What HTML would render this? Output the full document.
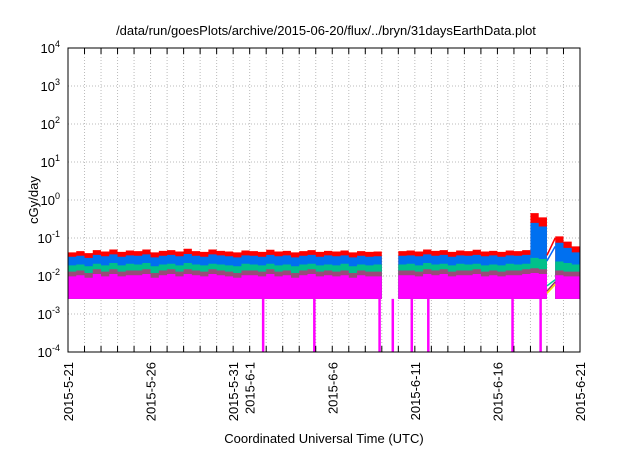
<!DOCTYPE html>
<html><head><meta charset="utf-8">
<style>
body{margin:0;background:#fff;}
svg text{font-family:"Liberation Sans",sans-serif;fill:#000;}
</style></head>
<body>
<svg id="chart" width="640" height="448" viewBox="0 0 640 448" xmlns="http://www.w3.org/2000/svg">
<rect width="640" height="448" fill="#fff"/>
<text x="326" y="35" font-size="13" text-anchor="middle">/data/run/goesPlots/archive/2015-06-20/flux/../bryn/31daysEarthData.plot</text>
<text transform="translate(38,200) rotate(-90)" font-size="13" text-anchor="middle">cGy/day</text>
<text x="324" y="443" font-size="13" text-anchor="middle">Coordinated Universal Time (UTC)</text>
<g id="grid"></g>
<g id="series"></g>
<g id="axes"></g>
</svg>
<script>
const dayLabels=["2015-5-21","2015-5-26","2015-5-31","2015-6-1","2015-6-6","2015-6-11","2015-6-16","2015-6-21"];
const dayLabelPos=[0,5,10,11,16,21,26,31];
const yExps=[-4,-3,-2,-1,0,1,2,3,4];
const red=[0.042,0.045,0.04,0.048,0.044,0.05,0.043,0.047,0.045,0.05,0.042,0.046,0.048,0.044,0.052,0.045,0.043,0.05,0.046,0.044,0.042,0.047,0.045,0.043,0.049,0.044,0.046,0.042,0.045,0.048,0.043,0.046,0.044,0.047,0.042,0.045,0.043,0.044,null,null,0.045,0.047,0.044,0.05,0.046,0.048,0.043,0.047,0.045,0.049,0.044,0.046,0.043,0.047,0.045,0.048,0.45,0.35,null,0.11,0.08,0.06,0.05];
const blue=[0.032,0.034,0.03,0.036,0.033,0.037,0.032,0.035,0.034,0.037,0.031,0.034,0.036,0.033,0.038,0.034,0.032,0.037,0.035,0.033,0.031,0.035,0.034,0.032,0.036,0.033,0.035,0.031,0.034,0.036,0.032,0.035,0.033,0.035,0.031,0.034,0.032,0.033,null,null,0.034,0.035,0.033,0.037,0.034,0.036,0.032,0.035,0.034,0.036,0.033,0.035,0.032,0.035,0.034,0.036,0.25,0.2,null,0.075,0.055,0.042,0.035];
const green=[0.019,0.02,0.018,0.021,0.019,0.022,0.019,0.021,0.02,0.022,0.018,0.02,0.021,0.019,0.022,0.02,0.019,0.021,0.02,0.019,0.018,0.021,0.02,0.019,0.021,0.019,0.02,0.018,0.02,0.021,0.019,0.02,0.019,0.021,0.018,0.02,0.019,0.02,null,null,0.02,0.021,0.019,0.022,0.02,0.021,0.019,0.021,0.02,0.021,0.019,0.02,0.019,0.021,0.02,0.021,0.03,0.028,null,0.024,0.022,0.02,0.019];
const magentaTop=[0.013,0.014,0.012,0.015,0.013,0.015,0.013,0.014,0.014,0.015,0.012,0.014,0.015,0.013,0.015,0.014,0.013,0.015,0.014,0.013,0.012,0.014,0.014,0.013,0.015,0.013,0.014,0.012,0.014,0.015,0.013,0.014,0.013,0.014,0.012,0.014,0.013,0.013,null,null,0.014,0.014,0.013,0.015,0.014,0.015,0.013,0.014,0.014,0.015,0.013,0.014,0.013,0.014,0.014,0.015,0.016,0.015,null,0.014,0.013,0.013,0.012];
const magentaBase=0.0025;
const dropoutDays=[11.8,14.9,18.85,19.65,20.8,21.8,26.9,28.6];
const bridgeStart=[0.035,0.025,0.0055,0.004,0.0035];
const bridgeEnd=[0.1,0.06,0.008,0.007,0.006];
const bridgeColors=["#ff0000","#0066ff","#00cc99","#993366","#ffdd00"];

const X0=68,X1=580,Y0=352,Y1=48;
const xs=d=>X0+(X1-X0)*d/31;
const ys=v=>Y0-(Math.log10(v)+4)*(Y0-Y1)/8;
const NS="http://www.w3.org/2000/svg";
function mk(tag,attrs,parent){const e=document.createElementNS(NS,tag);for(const k in attrs)e.setAttribute(k,attrs[k]);parent.appendChild(e);return e;}
const grid=document.getElementById('grid'),ser=document.getElementById('series'),ax=document.getElementById('axes');
for(let d=0;d<=31;d++){
  const l=mk('line',{x1:xs(d),x2:xs(d),y1:Y1,y2:Y0,stroke:'#bbb','stroke-dasharray':'1,2','stroke-width':1},grid);
  
  
}
yExps.forEach(e=>{
  const y=ys(Math.pow(10,e));
  const l=mk('line',{x1:X0,x2:X1,y1:y,y2:y,stroke:'#bbb','stroke-dasharray':'1,2','stroke-width':1},grid);
  
  
  const t=mk('text',{x:X0-8,y:y+5,'font-size':13,'text-anchor':'end'},ax);
  
  
  t.textContent='10';
  const s=mk('tspan',{dy:-6,'font-size':9},t);s.textContent=String(e);
});
function segments(arr){const segs=[];let cur=[];arr.forEach((v,i)=>{if(v==null){if(cur.length)segs.push(cur);cur=[];}else cur.push(i);});if(cur.length)segs.push(cur);return segs;}
function area(arr,color,name){
  segments(arr).forEach(seg=>{
    let pts=[];
    seg.forEach((i,k)=>{const d0=i*0.5,d1=Math.min(31,d0+0.5);pts.push(xs(d0)+','+ys(arr[i]),xs(d1)+','+ys(arr[i]));});
    const last=seg[seg.length-1]*0.5+0.5,first=seg[0]*0.5;
    pts.push(xs(Math.min(31,last))+','+ys(magentaBase),xs(first)+','+ys(magentaBase));
    const p=mk('polygon',{points:pts.join(' '),fill:color},ser);
    
    
  });
}
area(red,'#ff0000','red-series');
area(blue,'#0070f0','blue-series');
area(green,'#00c08a','green-series');
area(magentaTop,'#9a4a7a','brown-series');
const mt=magentaTop.map(v=>v==null?null:v*0.75);
area(mt,'#ff00ff','magenta-series');
bridgeStart.forEach((v,i)=>{
  const l=mk('line',{x1:xs(29.0),y1:ys(v),x2:xs(29.5),y2:ys(bridgeEnd[i]),stroke:bridgeColors[i],'stroke-width':1.5},ser);
  
  
});
dropoutDays.forEach(d=>{
  const r=mk('rect',{x:xs(d)-1,y:ys(magentaBase),width:2.5,height:Y0-ys(magentaBase),fill:'#ff00ff'},ser);
  
  
});
const frame=mk('rect',{x:X0,y:Y1,width:X1-X0,height:Y0-Y1,fill:'none',stroke:'#000','stroke-width':1},ax);


for(let d=0;d<=31;d++){
  const a=mk('line',{x1:xs(d),x2:xs(d),y1:Y0,y2:Y0-6,stroke:'#000'},ax);
  
  
  const b=mk('line',{x1:xs(d),x2:xs(d),y1:Y1,y2:Y1+6,stroke:'#000'},ax);
  
  
}
dayLabels.forEach((s,i)=>{
  const x=xs(dayLabelPos[i]);
  const t=mk('text',{transform:`translate(${x+5},362) rotate(-90)`,'font-size':13,'text-anchor':'end'},ax);
  
  
  t.textContent=s;
});
</script>
</body></html>
